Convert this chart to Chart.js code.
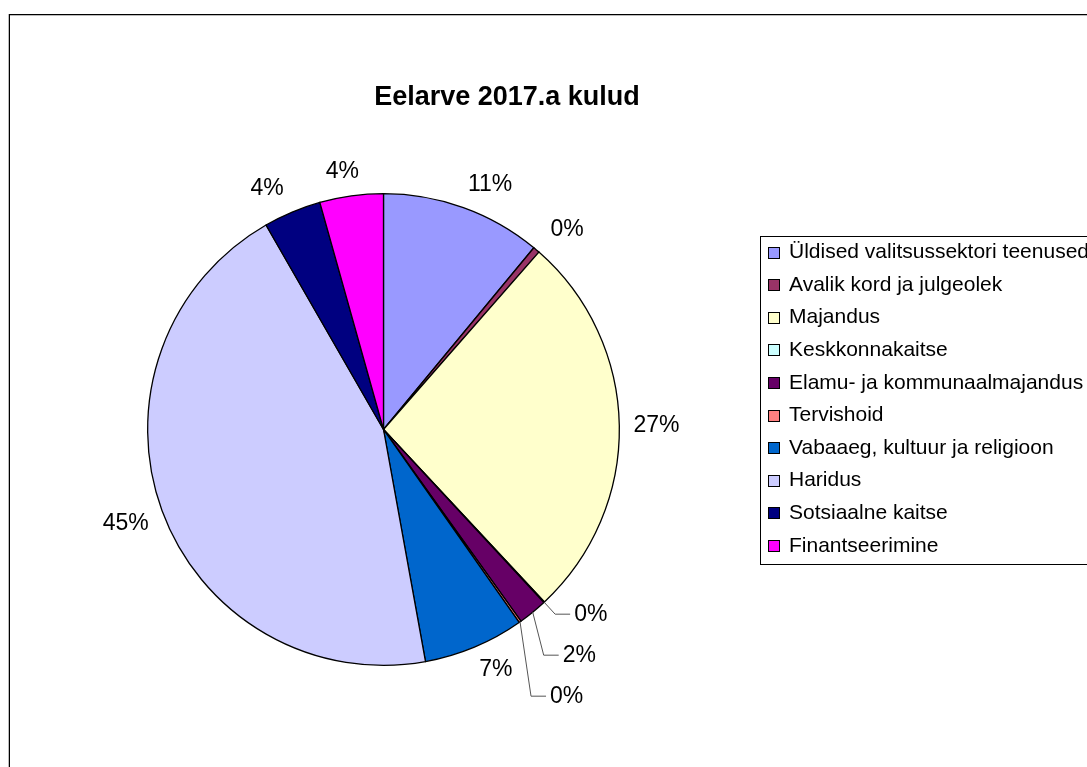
<!DOCTYPE html>
<html><head><meta charset="utf-8">
<script src="https://cdn.jsdelivr.net/npm/chart.js@4.4.1/dist/chart.umd.min.js"></script>
<style>
html,body{margin:0;padding:0;background:#fff;overflow:hidden}
#wrap{position:relative;width:1087px;height:767px}
#frame{position:absolute;left:9px;top:14px;width:1200px;height:900px;border-left:1px solid #000;border-top:1px solid #000;box-shadow:-1px 0 0 #bbb, inset 0 1px 0 #bbb}
canvas{position:absolute;left:0;top:0}
</style></head><body>
<div id="wrap"><div id="frame"></div><canvas id="c" width="1087" height="767"></canvas></div>
<script>
const chartTitle = 'Eelarve 2017.a kulud';
const categories = [
  'Üldised valitsussektori teenused',
  'Avalik kord ja julgeolek',
  'Majandus',
  'Keskkonnakaitse',
  'Elamu- ja kommunaalmajandus',
  'Tervishoid',
  'Vabaaeg, kultuur ja religioon',
  'Haridus',
  'Sotsiaalne kaitse',
  'Finantseerimine'
];
const values = [11.0, 0.45, 26.6, 0.05, 2.0, 0.15, 6.9, 44.55, 3.95, 4.35];
const colors = ['#9999FF','#993366','#FFFFCC','#CCFFFF','#660066','#FF8080','#0066CC','#CCCCFF','#000080','#FF00FF'];

const FONT = '"Liberation Sans", Arial, sans-serif';

const titlePlugin = {
  id: 'xlTitle',
  afterDraw(chart, args, o) {
    const ctx = chart.ctx;
    ctx.save();
    ctx.font = 'bold 27px ' + FONT;
    ctx.fillStyle = '#000';
    ctx.textAlign = 'center';
    ctx.textBaseline = 'middle';
    ctx.fillText(chartTitle, o.x, o.y);
    ctx.restore();
  }
};

const labelPlugin = {
  id: 'pctLabels',
  afterDatasetsDraw(chart, args, o) {
    const ctx = chart.ctx;
    const meta = chart.getDatasetMeta(0);
    const ds = chart.data.datasets[0].data;
    const total = ds.reduce((a, b) => a + b, 0);
    ctx.save();
    ctx.font = o.size + 'px ' + FONT;
    ctx.fillStyle = '#000';
    ctx.textBaseline = 'middle';
    let prevLy = null;
    meta.data.forEach((arc, i) => {
      const pct = ds[i] / total * 100;
      const text = Math.round(pct) + '%';
      const p = arc.getProps(['x', 'y', 'startAngle', 'endAngle', 'outerRadius'], true);
      const mid = (p.startAngle + p.endAngle) / 2;
      const ca = Math.cos(mid), sa = Math.sin(mid);
      const w = ctx.measureText(text).width, h = 20;
      const leader = pct < o.leaderBelow && sa > 0;
      if (!leader) {
        const Ry = p.outerRadius + o.gap;
        const Rx = Ry + o.upX * Math.max(0, -sa);
        const px = p.x + Rx * ca, py = p.y + Ry * sa;
        const cl = v => Math.max(-1, Math.min(1, v * o.k));
        ctx.textAlign = 'center';
        ctx.fillText(text, px + w / 2 * cl(ca), py + h / 2 * cl(sa));
      } else {
        const sx = p.x + p.outerRadius * ca, sy = p.y + p.outerRadius * sa;
        let ly = sy + 12;
        if (prevLy !== null) ly = Math.max(ly, prevLy + o.step);
        prevLy = ly;
        const ex = sx + 11;
        ctx.strokeStyle = '#555';
        ctx.lineWidth = 1;
        ctx.beginPath();
        ctx.moveTo(sx, sy);
        ctx.lineTo(ex, ly);
        ctx.lineTo(ex + 15, ly);
        ctx.stroke();
        ctx.textAlign = 'left';
        ctx.fillText(text, ex + 19, ly);
      }
    });
    ctx.restore();
  }
};

const legendPlugin = {
  id: 'xlLegend',
  afterDraw(chart, args, o) {
    const ctx = chart.ctx;
    ctx.save();
    ctx.strokeStyle = '#000';
    ctx.lineWidth = 1;
    ctx.strokeRect(o.x + 0.5, o.y + 0.5, 400, o.h);
    ctx.font = o.size + 'px ' + FONT;
    ctx.textBaseline = 'middle';
    ctx.textAlign = 'left';
    categories.forEach((c, i) => {
      const cy = o.y + o.first + i * o.step;
      ctx.fillStyle = colors[i];
      ctx.fillRect(o.x + 8.5, Math.round(cy - 6) + 0.5, 11, 11);
      ctx.strokeStyle = '#000';
      ctx.strokeRect(o.x + 8.5, Math.round(cy - 6) + 0.5, 11, 11);
      ctx.fillStyle = '#000';
      ctx.fillText(c, o.x + 29, cy);
    });
    ctx.restore();
  }
};

new Chart(document.getElementById('c'), {
  type: 'pie',
  data: {
    labels: categories,
    datasets: [{
      data: values,
      backgroundColor: colors,
      borderColor: '#000',
      borderWidth: 1.3,
      borderJoinStyle: 'miter'
    }]
  },
  options: {
    responsive: false,
    animation: false,
    events: [],
    layout: { padding: { left: 147, top: 193, right: 467, bottom: 101 } },
    plugins: {
      legend: { display: false },
      tooltip: { enabled: false },
      title: { display: false },
      xlTitle: { x: 507, y: 98 },
      pctLabels: { size: 23, gap: 14, upX: 10, k: 2.5, leaderBelow: 3, step: 41 },
      xlLegend: { x: 760, y: 236, h: 328, first: 16.5, step: 32.6, size: 21 }
    }
  },
  plugins: [labelPlugin, legendPlugin, titlePlugin]
});
</script>
</body></html>
